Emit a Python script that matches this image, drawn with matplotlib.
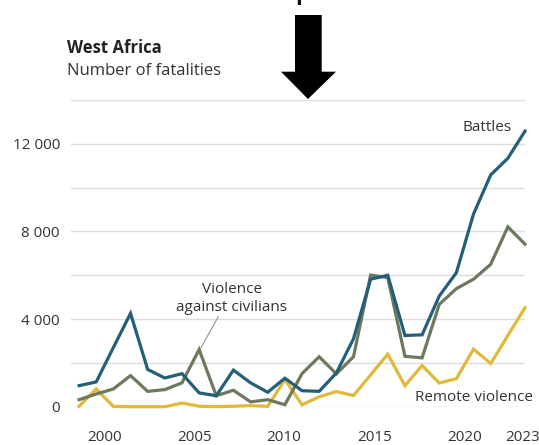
import matplotlib
matplotlib.use("Agg")
import matplotlib.pyplot as plt
from matplotlib.patches import Polygon

plt.rcParams['font.family'] = ['Open Sans', 'DejaVu Sans']

# ACLED-style yearly fatalities, West Africa
years = list(range(1997, 2024))
battles = [960, 1130, 2700, 4260, 1700, 1310, 1510, 630, 500, 1670, 1090, 660, 1300,
           730, 700, 1540, 3100, 5820, 6000, 3250, 3280, 5050, 6120, 8800, 10580, 11340, 12580]
civilians = [320, 580, 810, 1420, 700, 780, 1090, 2610, 500, 750, 220, 320, 90,
             1510, 2280, 1500, 2280, 6010, 5890, 2300, 2230, 4670, 5390, 5820, 6500, 8210, 7420]
remote = [20, 810, 10, 0, 0, 0, 170, 20, 0, 20, 50, 15, 1240,
          90, 450, 690, 510, 1450, 2400, 960, 1880, 1080, 1280, 2630, 1970, 3250, 4520]

ytick_vals = [0, 4000, 8000, 12000]
ytick_labels = ["0", "4 000", "8 000", "12 000"]
xtick_labels = ["2000", "2005", "2010", "2015", "2020", "2023"]
# label positions as they sit in the reference (slightly off the data years)
xtick_pos = [1998.47, 2003.72, 2008.95, 2014.26, 2019.5, 2022.88]

c_battles = "#235f78"
c_civ = "#6b795c"
c_remote = "#e0b83a"
txt = "#333333"

W, H = 539, 445
fig = plt.figure(figsize=(W / 100, H / 100), dpi=100)
ax = fig.add_axes([71 / W, 1 - 406.7 / H, (525 - 71) / W, (406.7 - 100) / H])

ax.set_xlim(1996.53, 2023)
ax.set_ylim(0, 14000)
ax.set_yticks(range(0, 14001, 2000), minor=False)
ax.grid(axis="y", color="#dddddd", lw=1)
ax.set_axisbelow(True)
for s in ax.spines.values():
    s.set_visible(False)

ax.set_yticks(ytick_vals)
ax.set_yticklabels(ytick_labels)
ax.set_yticks(range(2000, 14001, 4000), minor=True)
ax.grid(axis="y", which="minor", color="#dddddd", lw=1)
ax.tick_params(axis="y", which="both", length=0, pad=8, labelsize=11, labelcolor=txt)

ax.set_xticks(xtick_pos)
ax.set_xticklabels(xtick_labels)
ax.tick_params(axis="x", length=0, pad=17, labelsize=11, labelcolor=txt)

lw = 2.3
ax.plot(years, remote, color=c_remote, lw=lw, clip_on=False, solid_joinstyle="miter", zorder=3)
ax.plot(years, civilians, color=c_civ, lw=lw, clip_on=False, solid_joinstyle="miter", zorder=4)
ax.plot(years, battles, color=c_battles, lw=lw, clip_on=False, solid_joinstyle="miter", zorder=5)

ax.text(2022.22, 12760, "Battles", ha="right", va="center", fontsize=11, color=txt)
ax.text(2023.47, 430, "Remote violence", ha="right", va="center", fontsize=11, color=txt,
        clip_on=False)
ax.text(2005.9, 4940, "Violence\nagainst civilians", ha="center", va="center",
        fontsize=11, color=txt, linespacing=1.2)
ax.plot([2004.09, 2005.12], [2667, 4110], color="#888888", lw=0.7, zorder=6)

fig.text(67 / W, 1 - 48 / H, "West Africa", fontsize=12, fontweight="bold",
         color="#222222", va="center", ha="left")
fig.text(67 / W, 1 - 71 / H, "Number of fatalities", fontsize=12,
         color=txt, va="center", ha="left")

# cut-off text at the very top of the image
fig.text(295 / W, 1.0, "p", fontsize=16, fontweight="bold", color="#111111",
         va="baseline", ha="left")

# big black arrow pointing down
arrow = [(295, 15), (321.7, 15), (321.7, 71.7), (336, 71.7), (308, 99),
         (281, 71.7), (295, 71.7)]
fig.patches.append(Polygon([(x / W, 1 - y / H) for x, y in arrow], closed=True,
                           transform=fig.transFigure, facecolor="black",
                           edgecolor="none", zorder=10))

fig.savefig("out.png", dpi=100)
